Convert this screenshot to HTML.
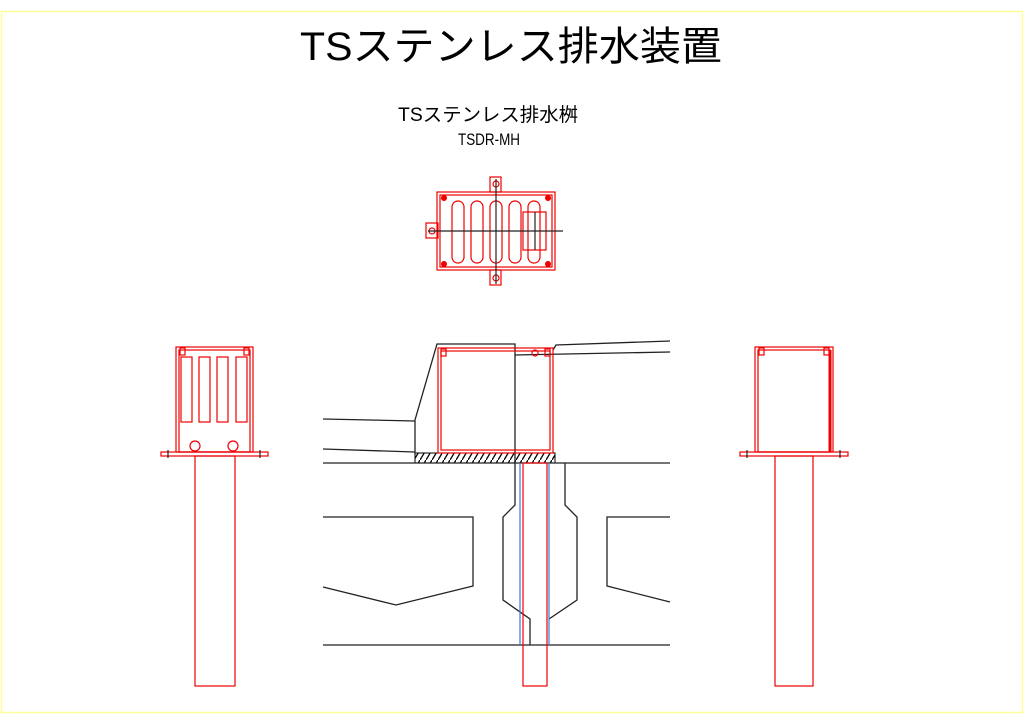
<!DOCTYPE html>
<html><head><meta charset="utf-8"><style>
html,body{margin:0;padding:0;background:#fff;width:1024px;height:724px;overflow:hidden}
svg{display:block}
text{font-family:"Liberation Sans","Noto Sans CJK JP",sans-serif;fill:#000}
</style></head><body>
<svg width="1024" height="724" viewBox="0 0 1024 724" xmlns="http://www.w3.org/2000/svg">
<defs>
<pattern id="h" width="6" height="10" patternUnits="userSpaceOnUse">
<line x1="0" y1="10" x2="6" y2="0" stroke="#000" stroke-width="1.3"/>
</pattern>
</defs>
<rect x="1.5" y="11.5" width="1021" height="701" fill="none" stroke="#ffff99" stroke-width="1.5"/>
<text x="300" y="60" font-size="40" textLength="422" lengthAdjust="spacingAndGlyphs">TSステンレス排水装置</text>
<text x="398" y="121" font-size="19" textLength="180" lengthAdjust="spacingAndGlyphs">TSステンレス排水桝</text>
<text x="458" y="145" font-size="17" textLength="62" lengthAdjust="spacingAndGlyphs">TSDR-MH</text>

<!-- plan view -->
<g fill="none" stroke="#e00" stroke-width="1.2">
<rect x="490" y="177" width="11" height="15"/>
<rect x="490" y="270" width="11" height="15"/>
<rect x="426" y="223" width="12" height="15"/>
<rect x="437" y="192" width="118" height="78"/>
<rect x="440" y="195" width="112" height="72"/>
<rect x="452" y="201" width="12" height="62" rx="6"/>
<rect x="471" y="201" width="12" height="62" rx="6"/>
<rect x="490" y="201" width="12" height="62" rx="6"/>
<rect x="509" y="201" width="12" height="62" rx="6"/>
<rect x="528" y="201" width="12" height="62" rx="6"/>
<rect x="523" y="212" width="23" height="38"/>
<circle cx="496" cy="184" r="3"/><circle cx="496" cy="278" r="3"/><circle cx="432" cy="231" r="3"/>
</g>
<g fill="#e00"><circle cx="444" cy="198" r="3"/><circle cx="548" cy="198" r="3"/><circle cx="444" cy="264" r="3"/><circle cx="548" cy="264" r="3"/></g>
<g stroke="#222" stroke-width="1.2">
<line x1="428" y1="231" x2="563" y2="231"/>
<line x1="496" y1="179" x2="496" y2="284"/>
<line x1="535" y1="212" x2="535" y2="250"/>
</g>

<!-- left elevation -->
<g fill="none" stroke="#e00" stroke-width="1.2">
<rect x="176" y="347" width="77" height="105"/>
<rect x="179" y="350" width="71" height="102"/>
<rect x="181" y="357" width="11" height="65"/>
<rect x="199" y="357" width="11" height="65"/>
<rect x="217" y="357" width="11" height="65"/>
<rect x="236" y="357" width="11" height="65"/>
<rect x="180" y="348" width="5" height="7"/><rect x="244" y="348" width="5" height="7"/>
<circle cx="195" cy="446" r="5"/><circle cx="233" cy="446" r="5"/>
<rect x="161" y="452" width="107" height="4"/>
<rect x="195" y="456" width="40" height="230"/>
</g>
<g stroke="#000" stroke-width="1"><line x1="168" y1="450" x2="168" y2="458"/><line x1="260" y1="450" x2="260" y2="458"/></g>

<!-- right elevation -->
<g fill="none" stroke="#e00" stroke-width="1.2">
<rect x="755" y="347" width="78" height="105"/>
<rect x="758" y="350" width="72" height="102"/>
<line x1="830" y1="350" x2="830" y2="452" stroke-width="3"/>
<rect x="759" y="348" width="5" height="7"/><rect x="824" y="348" width="5" height="7"/>
<rect x="740" y="452" width="108" height="4"/>
<rect x="775" y="456" width="38" height="230"/>
</g>
<g stroke="#000" stroke-width="1"><line x1="747" y1="450" x2="747" y2="458"/><line x1="840" y1="450" x2="840" y2="458"/></g>

<!-- section -->
<rect x="415" y="453" width="140" height="10" fill="url(#h)" stroke="#000" stroke-width="1"/>
<g fill="none" stroke="#222" stroke-width="1.3">
<polyline points="323,419 415,421"/>
<polyline points="323,449 415,452"/>
<polyline points="415,455 415,420 437,344 515,344 515,463"/>
<polyline points="553,350 556,345 670,341"/>
<polyline points="515,355 670,352"/>
<line x1="323" y1="463" x2="670" y2="463"/>
<polyline points="515,463 515,505 503,517 503,600 530,619 530,645"/>
<polyline points="565,463 565,505 577,517 577,600 549,619"/>
<polyline points="323,517 473,517 473,586 396,605 323,587"/>
<polyline points="670,517 607,517 607,586 670,602"/>
<line x1="323" y1="645" x2="670" y2="645"/>
</g>
<g fill="none" stroke="#e00" stroke-width="1.2">
<rect x="438" y="348" width="115" height="105"/>
<rect x="441" y="351" width="109" height="99"/>
<rect x="441" y="349" width="5" height="7"/><rect x="545" y="349" width="5" height="7"/>
<circle cx="535" cy="353" r="3"/>
<rect x="523" y="463" width="24" height="223"/>
</g>
<g stroke="#3a7ad8" stroke-width="1.2"><line x1="520" y1="463" x2="520" y2="645"/><line x1="549" y1="463" x2="549" y2="645"/></g>
</svg>
</body></html>
